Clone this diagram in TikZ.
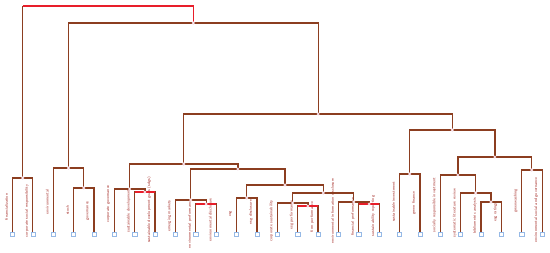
\documentclass[tikz,border=0pt]{standalone}
\usetikzlibrary{calc}
\definecolor{linkbrown}{RGB}{140,62,32}
\definecolor{linkred}{RGB}{232,30,42}
\definecolor{labred}{RGB}{165,45,40}
\definecolor{leafblue}{RGB}{150,185,230}
\definecolor{dotpink}{RGB}{240,200,215}
\tikzset{
  treelink/.style={linkbrown, line width=1.2pt},
  redlink/.style={linkred, line width=1.2pt},
  mergedot/.style={circle, draw=dotpink, fill=white, inner sep=0pt, minimum size=2.6pt, line width=0.4pt},
  leafbox/.style={rectangle, draw=leafblue, fill=white, inner sep=0pt, minimum size=4.2pt, line width=0.5pt},
  leaflabel/.style={rotate=90, text=labred, font=\fontsize{4}{5}\selectfont\sffamily, inner sep=0pt},
}
\begin{document}
\begin{tikzpicture}[x=1pt, y=-1pt]
\useasboundingbox (0,0) rectangle (550,253);

% leaves, boxes and labels
\foreach \i/\ly/\lab in {0/207/financialization, 1/211/corporate social responsibility,
  2/202/environmental, 3/210/stock, 4/211/governance, 5/204/corporate governance,
  6/211/sustainable development, 7/210/sustainable development goals (sdgs),
  8/216/emerging markets, 9/224/environmental performance, 10/220/environmental disclosure,
  11/214/esg, 12/212/esg disclosure, 13/221/corporate sustainability, 14/215/esg performance,
  15/217/firm performance, 16/211/environmental information disclosure,
  17/217/financial performance, 18/216/sustainability reporting, 19/202/sustainable investment,
  20/203/green finance, 21/205/socially responsible investment, 22/213/systematic literature review,
  23/216/bibliometric analysis, 24/212/esg ratings, 25/201/greenwashing,
  26/210/environmental social and governance}{
  \pgfmathsetmacro{\lx}{12.5+20.37*\i}
  \coordinate (L\i) at (\lx,232);
  \node[leafbox] (sq\i) at (\lx,234.5) {};
  \node[leaflabel] (lab\i) at ({\lx-6},\ly) {\lab};
}

% merge points
\coordinate (n01) at (22.7,178);
\coordinate (n34) at (83.8,188);
\coordinate (n234) at (68.5,168);
\coordinate (n67) at (144.9,192);
\coordinate (n5_7) at (129.6,189);
\coordinate (n910) at (206.1,204);
\coordinate (n8_10) at (190.8,200);
\coordinate (n1112) at (246.8,198);
\coordinate (n1415) at (307.9,206);
\coordinate (n13_15) at (292.6,203);
\coordinate (n1718) at (369.1,204);
\coordinate (n16_18) at (353.8,202);
\coordinate (n13_18) at (323.2,193);
\coordinate (n11_18) at (285,185);
\coordinate (n8_18) at (237.9,169);
\coordinate (n5_18) at (183.8,164);
\coordinate (n1920) at (409.7,174);
\coordinate (n2324) at (491,202);
\coordinate (n22_24) at (475.7,193);
\coordinate (n21_24) at (457.9,175);
\coordinate (n2526) at (531.8,170);
\coordinate (n21_26) at (494.9,157);
\coordinate (n19_26) at (452.3,130);
\coordinate (n5_26) at (318.1,114);
\coordinate (n2_26) at (193.3,23);
\coordinate (rootL) at (22.7,6);

% links
\draw[treelink] (L0) |- (n01) -| (L1);
\draw[treelink] (L3) |- (n34) -| (L4);
\draw[treelink] (L2) |- (n234) -| (n34);
\draw[treelink] (L6) |- (n67) -| (L7);
\draw[treelink] (L5) |- (n5_7) -| (n67);
\draw[treelink] (L9) |- (n910) -| (L10);
\draw[treelink] (L8) |- (n8_10) -| (n910);
\draw[treelink] (L11) |- (n1112) -| (L12);
\draw[treelink] (L14) |- (n1415) -| (L15);
\draw[treelink] (L13) |- (n13_15) -| (n1415);
\draw[treelink] (L17) |- (n1718) -| (L18);
\draw[treelink] (L16) |- (n16_18) -| (n1718);
\draw[treelink] (n13_15) |- (n13_18) -| (n16_18);
\draw[treelink] (n1112) |- (n11_18) -| (n13_18);
\draw[treelink] (n8_10) |- (n8_18) -| (n11_18);
\draw[treelink] (n5_7) |- (n5_18) -| (n8_18);
\draw[treelink] (L19) |- (n1920) -| (L20);
\draw[treelink] (L23) |- (n2324) -| (L24);
\draw[treelink] (L22) |- (n22_24) -| (n2324);
\draw[treelink] (L21) |- (n21_24) -| (n22_24);
\draw[treelink] (L25) |- (n2526) -| (L26);
\draw[treelink] (n21_24) |- (n21_26) -| (n2526);
\draw[treelink] (n1920) |- (n19_26) -| (n21_26);
\draw[treelink] (n5_18) |- (n5_26) -| (n19_26);
\draw[treelink] (n234) |- (n2_26) -| (n5_26);
\draw[treelink] (n01) -- (rootL);

% highlighted links
\draw[redlink] (rootL) -| (n2_26);
\draw[redlink] (L6 |- n67) -- (L7 |- n67);
\draw[redlink] (L9 |- n910) -- (L10 |- n910);
\draw[redlink] (L14 |- n1415) -- (L15 |- n1415);
\draw[redlink] (L17 |- n1718) -- (L18 |- n1718);

% dots at the merges
\foreach \m in {n01,n34,n234,n67,n5_7,n910,n8_10,n1112,n1415,n13_15,n1718,n16_18,
  n13_18,n11_18,n8_18,n5_18,n1920,n2324,n22_24,n21_24,n2526,n21_26,n19_26,n5_26,n2_26}
  \node[mergedot] (d\m) at (\m) {};
\end{tikzpicture}
\end{document}
